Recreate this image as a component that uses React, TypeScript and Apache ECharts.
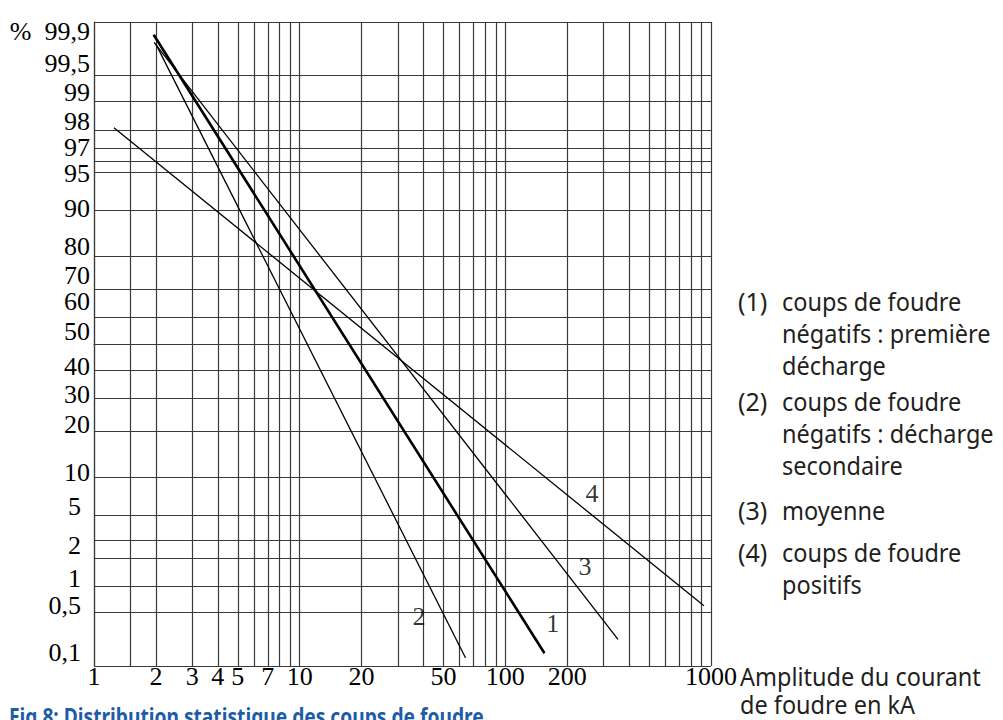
import React, { useEffect, useRef } from 'react';
import * as echarts from 'echarts';

// ---- scale definitions (tick values) ----
const X_GRID_KA = [1, 1.5, 2, 3, 4, 5, 6, 7, 8, 9, 10, 20, 30, 40, 50, 60, 70, 80, 90, 100, 200, 300, 400, 500, 600, 700, 800, 900, 1000];
const X_LABEL_KA = [1, 2, 3, 4, 5, 7, 10, 20, 50, 100, 200, 1000];
const Y_GRID_PCT = [99.9, 99.5, 99, 98, 97, 96, 95, 90, 80, 70, 60, 50, 40, 30, 20, 10, 5, 3, 2, 1, 0.5, 0.1];
const Y_LABEL_PCT = [99.9, 99.5, 99, 98, 97, 95, 90, 80, 70, 60, 50, 40, 30, 20, 10, 5, 2, 1, 0.5, 0.1];
const Y_LABEL_TEXT = ['99,9', '99,5', '99', '98', '97', '95', '90', '80', '70', '60', '50', '40', '30', '20', '10', '5', '2', '1', '0,5', '0,1'];

// ---- curves: end points [kA] and [%] ----
const CURVE_NAMES = ['1', '2', '3', '4'];
const CURVE_1_KA = [1.95, 155];
const CURVE_1_PCT = [99.85, 0.15];
const CURVE_2_KA = [2, 64];
const CURVE_2_PCT = [99.8, 0.13];
const CURVE_3_KA = [1.96, 353];
const CURVE_3_PCT = [99.81, 0.23];
const CURVE_4_KA = [1.25, 924];
const CURVE_4_PCT = [98.1, 0.6];

// curve number labels anchor [kA, %]
const CURVE_LABEL_KA = [170, 38, 244, 264];
const CURVE_LABEL_PCT = [0.37, 0.44, 1.62, 7.6];

const LEGEND_PREFIX = ['(1)', '(2)', '(3)', '(4)'];
const LEGEND_BODY = [
  'coups de foudre\nnégatifs : première\ndécharge',
  'coups de foudre\nnégatifs : décharge\nsecondaire',
  'moyenne',
  'coups de foudre\npositifs',
];
const X_AXIS_TITLE = 'Amplitude du courant\nde foudre en kA';
const FIG_TITLE = 'Fig 8: Distribution statistique des coups de foudre';

// ---- styling (not data) ----
const CURVE_WIDTHS = [2.6, 1.3, 1.3, 1.3];
// hand-placed label nudges of the original probability paper (px)
const Y_LABEL_DY = [9, -12, -9, -9, -1, 1, -2, -10, -14, -16, -13, -4, -4, -7, -5, -9, -12, -8, -7, -14];
const Y_LABEL_DX = [0, 0, 0, 0, 0, 0, 0, 0, 0, 0, 0, 0, 0, 0, 0, 9, 9, 9, 9, 9];
const LEGEND_TOP = [285, 385, 494, 536];

// inverse standard normal CDF (Acklam)
function probit(pct: number): number {
  const p = pct / 100;
  const a = [-3.969683028665376e1, 2.209460984245205e2, -2.759285104469687e2, 1.38357751867269e2, -3.066479806614716e1, 2.506628277459239];
  const b = [-5.447609879822406e1, 1.615858368580409e2, -1.556989798598866e2, 6.680131188771972e1, -1.328068155288572e1];
  const c = [-7.784894002430293e-3, -3.223964580411365e-1, -2.400758277161838, -2.549732539343734, 4.374664141464968, 2.938163982698783];
  const d = [7.784695709041462e-3, 3.224671290700398e-1, 2.445134137142996, 3.754408661907416];
  const pl = 0.02425;
  if (p < pl) {
    const q = Math.sqrt(-2 * Math.log(p));
    return (((((c[0] * q + c[1]) * q + c[2]) * q + c[3]) * q + c[4]) * q + c[5]) / ((((d[0] * q + d[1]) * q + d[2]) * q + d[3]) * q + 1);
  }
  if (p > 1 - pl) {
    const q = Math.sqrt(-2 * Math.log(1 - p));
    return -(((((c[0] * q + c[1]) * q + c[2]) * q + c[3]) * q + c[4]) * q + c[5]) / ((((d[0] * q + d[1]) * q + d[2]) * q + d[3]) * q + 1);
  }
  const q = p - 0.5;
  const r = q * q;
  return (((((a[0] * r + a[1]) * r + a[2]) * r + a[3]) * r + a[4]) * r + a[5]) * q / (((((b[0] * r + b[1]) * r + b[2]) * r + b[3]) * r + b[4]) * r + 1);
}

const SERIF = '"Liberation Serif", "DejaVu Serif", serif';
const SANS = '"Noto Sans", "Open Sans", sans-serif';
const INK = '#231f20';

export default function App() {
  const ref = useRef<HTMLDivElement>(null);

  useEffect(() => {
    if (!ref.current) return;
    const chart = echarts.init(ref.current, undefined, { renderer: 'svg' });

    const yMin = probit(0.1);
    const yMax = probit(99.9);
    const yLabelVals = Y_LABEL_PCT.map((p) => (p === 99.9 ? yMax : p === 0.1 ? yMin : probit(p)));
    const yGridVals = Y_GRID_PCT.map((p) => (p === 99.9 ? yMax : p === 0.1 ? yMin : probit(p)));
    const xGridVals = X_GRID_KA.map((v) => Math.log10(v));
    const xLabelVals = X_LABEL_KA.map((v) => Math.log10(v));

    const curves = [
      [CURVE_1_KA, CURVE_1_PCT],
      [CURVE_2_KA, CURVE_2_PCT],
      [CURVE_3_KA, CURVE_3_PCT],
      [CURVE_4_KA, CURVE_4_PCT],
    ];

    const lineSeries = curves.map(([ka, pct], i) => ({
      type: 'line',
      name: CURVE_NAMES[i],
      data: ka.map((k, j) => [Math.log10(k), probit(pct[j])]),
      showSymbol: false,
      symbol: 'none',
      lineStyle: { color: '#000', width: CURVE_WIDTHS[i] },
      silent: true,
      z: 5,
    }));

    const labelSeries = {
      type: 'scatter',
      symbolSize: 0,
      silent: true,
      data: CURVE_NAMES.map((n, i) => ({
        name: n,
        value: [Math.log10(CURVE_LABEL_KA[i]), probit(CURVE_LABEL_PCT[i])],
      })),
      label: {
        show: true,
        position: 'inside',
        formatter: (p: any) => p.name,
        fontFamily: SERIF,
        fontSize: 26,
        color: '#000',
      },
      z: 6,
    };

    const rich: Record<string, any> = {};
    Y_LABEL_DY.forEach((dy, i) => {
      rich['o' + i] = {
        fontFamily: SERIF,
        fontSize: 26,
        color: '#000',
        lineHeight: 22,
        padding: [dy > 0 ? 2 * dy : 0, Y_LABEL_DX[i], dy < 0 ? -2 * dy : 0, 0],
      };
    });

    const gridLine = { show: true, lineStyle: { color: '#3a3a3a', width: 1.2 } };

    chart.setOption({
      animation: false,
      backgroundColor: '#fff',
      grid: { left: 94, top: 22, width: 617, height: 644, containLabel: false },
      xAxis: {
        type: 'value',
        min: 0,
        max: 3,
        axisLine: { show: true, lineStyle: { color: '#3a3a3a', width: 1.2 } },
        axisTick: { show: false, customValues: xGridVals },
        splitLine: gridLine,
        axisLabel: {
          customValues: xLabelVals,
          formatter: (v: number) => String(Math.round(Math.pow(10, v))),
          fontFamily: SERIF,
          fontSize: 26,
          color: '#000',
          margin: -3,
          lineHeight: 26,
        },
      },
      yAxis: {
        type: 'value',
        min: yMin,
        max: yMax,
        axisLine: { show: true, lineStyle: { color: '#3a3a3a', width: 1.2 } },
        axisTick: { show: false, customValues: yGridVals },
        splitLine: gridLine,
        axisLabel: {
          customValues: yLabelVals,
          formatter: (v: number) => {
            let best = 0;
            let bd = Infinity;
            yLabelVals.forEach((lv, i) => {
              const d = Math.abs(lv - v);
              if (d < bd) { bd = d; best = i; }
            });
            const t = Y_LABEL_TEXT[best];
            return '{o' + best + '|' + (best === 0 ? '%  ' + t : t) + '}';
          },
          fontFamily: SERIF,
          fontSize: 26,
          color: '#000',
          margin: 4,
          verticalAlign: 'middle',
          rich,
        },
      },
      series: [...lineSeries, labelSeries],
      graphic: [
        ...LEGEND_PREFIX.map((p, i) => ({
          type: 'text',
          x: 738,
          y: LEGEND_TOP[i],
          style: { text: p, fontFamily: SANS, fontSize: 25, fill: INK, lineHeight: 32, verticalAlign: 'top' },
        })),
        ...LEGEND_BODY.map((b, i) => ({
          type: 'text',
          x: 782,
          y: LEGEND_TOP[i],
          scaleX: 0.94,
          style: { text: b, fontFamily: SANS, fontSize: 25, fill: INK, lineHeight: 32, verticalAlign: 'top' },
        })),
        {
          type: 'text',
          x: 740,
          y: 662,
          scaleX: 0.94,
          style: { text: X_AXIS_TITLE, fontFamily: SANS, fontSize: 25, fill: INK, lineHeight: 28, verticalAlign: 'top' },
        },
        {
          type: 'text',
          x: 9,
          y: 715.5,
          scaleX: 0.8,
          style: { text: FIG_TITLE, fontFamily: SANS, fontWeight: 'bold', fontSize: 24, fill: '#1f5ca8', verticalAlign: 'middle' },
        },
      ],
    });

    return () => chart.dispose();
  }, []);

  return (
    <div
      ref={ref}
      style={{ position: 'fixed', left: 0, top: 0, width: 1003, height: 720, background: '#fff' }}
    />
  );
}
